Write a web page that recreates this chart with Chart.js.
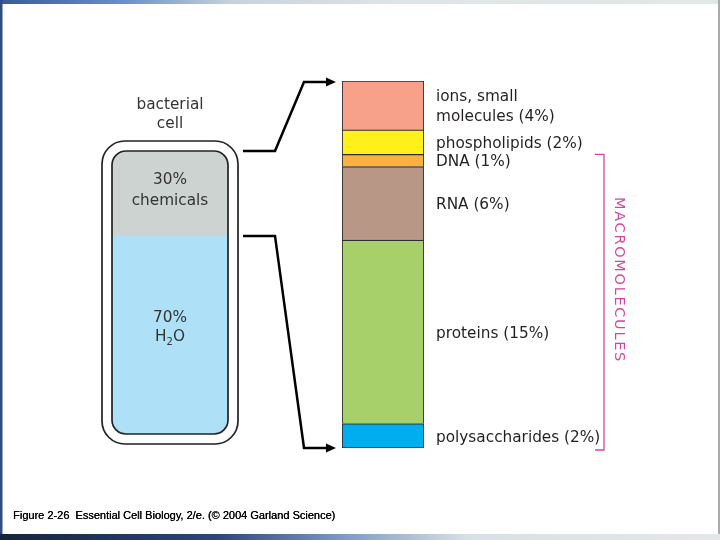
<!DOCTYPE html>
<html>
<head>
<meta charset="utf-8">
<script src="https://cdn.jsdelivr.net/npm/chart.js@4.4.1/dist/chart.umd.min.js"></script>
<style>
  html, body { margin: 0; padding: 0; background: #fff; }
  #wrap { position: relative; width: 720px; height: 540px; }
  #wrap canvas { position: absolute; left: 0; top: 0; }
</style>
</head>
<body>
<div id="wrap">
  <canvas id="cellChart" width="720" height="540"></canvas>
  <canvas id="moleculeChart" width="720" height="540"></canvas>
</div>
<script>
// Whole cell (percent)
const cellParts = ["H2O", "chemicals"];
const cellValues = [70, 30];
const cellColors = ["#aee0f8", "#cdd3d0"];

// Chemicals of the cell, bottom to top (percent of the cell)
const moleculeParts = ["polysaccharides", "proteins", "RNA", "DNA", "phospholipids", "ions, small molecules"];
const moleculeValues = [2, 15, 6, 1, 2, 4];
const moleculeColors = ["#00aeef", "#a8d06a", "#b89787", "#fbb040", "#fff01c", "#f7a08a"];
const moleculeLabels = [
    ["polysaccharides (2%)"],
    ["proteins (15%)"],
    ["RNA (6%)"],
    ["DNA (1%)"],
    ["phospholipids (2%)"],
    ["ions, small", "molecules (4%)"]
];
const macromolecules = ["polysaccharides", "proteins", "RNA", "DNA"];

const FONT = "DejaVu Sans";
const INK = "#231f20";
const PINK = "#d4449c";

function roundRect(ctx, x, y, w, h, r) {
    ctx.beginPath();
    ctx.moveTo(x + r, y);
    ctx.arcTo(x + w, y, x + w, y + h, r);
    ctx.arcTo(x + w, y + h, x, y + h, r);
    ctx.arcTo(x, y + h, x, y, r);
    ctx.arcTo(x, y, x + w, y, r);
    ctx.closePath();
}

// Slide frame, cell outline and cell texts
const cellDecor = {
    id: "cellDecor",
    beforeDraw(chart) {
        const ctx = chart.ctx;
        ctx.save();
        ctx.fillStyle = "#ffffff";
        ctx.fillRect(0, 0, 720, 540);

        let g = ctx.createLinearGradient(0, 0, 720, 0);
        g.addColorStop(0, "#3a5a92");
        g.addColorStop(0.17, "#6a8fc6");
        g.addColorStop(0.32, "#c6d2dc");
        g.addColorStop(0.55, "#dfe4e6");
        g.addColorStop(1, "#e3e7e8");
        ctx.fillStyle = g;
        ctx.fillRect(0, 0, 720, 4);

        ctx.fillStyle = "#2f4d82";
        ctx.fillRect(0, 0, 2.5, 540);
        ctx.fillStyle = "#a9acad";
        ctx.fillRect(718, 0, 2, 540);

        g = ctx.createLinearGradient(0, 0, 720, 0);
        g.addColorStop(0, "#15243f");
        g.addColorStop(0.3, "#2c4777");
        g.addColorStop(0.48, "#7e9cc4");
        g.addColorStop(0.65, "#d9e0e5");
        g.addColorStop(1, "#e4e7e8");
        ctx.fillStyle = g;
        ctx.fillRect(0, 534, 720, 6);

        ctx.fillStyle = "#000";
        ctx.font = "11px 'Liberation Sans'";
        ctx.textBaseline = "alphabetic";
        ctx.textAlign = "left";
        ctx.fillText("Figure 2-26  Essential Cell Biology, 2/e. (\u00a9 2004 Garland Science)", 13, 519);
        ctx.fillText("Figure 2-26  Essential Cell Biology, 2/e. (\u00a9 2004 Garland Science)", 13.3, 519);
        ctx.restore();
    },
    afterDatasetsDraw(chart) {
        const ctx = chart.ctx;
        const a = chart.chartArea;
        ctx.save();
        ctx.strokeStyle = "#222";
        ctx.lineWidth = 1.7;
        roundRect(ctx, a.left, a.top, a.right - a.left, a.bottom - a.top, 14);
        ctx.stroke();
        roundRect(ctx, a.left - 10, a.top - 10, a.right - a.left + 20, a.bottom - a.top + 20, 23);
        ctx.stroke();

        const cx = (a.left + a.right) / 2;
        ctx.fillStyle = "#333";
        ctx.font = "15.3px '" + FONT + "'";
        ctx.textAlign = "center";
        ctx.textBaseline = "middle";
        ctx.fillText("bacterial", cx, a.top - 46);
        ctx.fillText("cell", cx, a.top - 27);

        const water = chart.getDatasetMeta(0).data[0];
        const chem = chart.getDatasetMeta(1).data[0];
        const chemMid = (chem.y + chem.base) / 2;
        ctx.fillText(cellValues[1] + "%", cx, chemMid - 13);
        ctx.fillText(cellParts[1], cx, chemMid + 8);

        const waterMid = (water.y + water.base) / 2 - 8;
        ctx.fillText(cellValues[0] + "%", cx, waterMid - 9);
        // H2O with subscript
        const wH = ctx.measureText("H").width;
        const wO = ctx.measureText("O").width;
        ctx.font = "10px '" + FONT + "'";
        const w2 = ctx.measureText("2").width;
        const start = cx - (wH + w2 + wO) / 2;
        ctx.textAlign = "left";
        ctx.fillText("2", start + wH, waterMid + 15);
        ctx.font = "15.3px '" + FONT + "'";
        ctx.fillText("H", start, waterMid + 10);
        ctx.fillText("O", start + wH + w2, waterMid + 10);
        ctx.restore();
    }
};

// Molecule labels, bracket and connector arrows
const moleculeDecor = {
    id: "moleculeDecor",
    afterDatasetsDraw(chart) {
        const ctx = chart.ctx;
        const a = chart.chartArea;
        ctx.save();

        ctx.fillStyle = INK;
        ctx.font = "15.3px '" + FONT + "'";
        ctx.textAlign = "left";
        ctx.textBaseline = "middle";
        moleculeParts.forEach((part, i) => {
            const el = chart.getDatasetMeta(i).data[0];
            const mid = (el.y + el.base) / 2 + 2;
            const lines = moleculeLabels[i];
            lines.forEach((line, k) => {
                ctx.fillText(line, a.right + 12, mid + (k - (lines.length - 1) / 2) * 20);
            });
        });

        // bracket over the macromolecules
        const idx = macromolecules.map(m => moleculeParts.indexOf(m));
        const topEl = chart.getDatasetMeta(Math.max(...idx)).data[0];
        const botEl = chart.getDatasetMeta(Math.min(...idx)).data[0];
        const bx = a.right + 180;
        const bTop = topEl.y;
        const bBot = botEl.base + 2;
        ctx.strokeStyle = PINK;
        ctx.lineWidth = 1.3;
        ctx.beginPath();
        ctx.moveTo(bx - 9, bTop);
        ctx.lineTo(bx, bTop);
        ctx.lineTo(bx, bBot);
        ctx.lineTo(bx - 9, bBot);
        ctx.stroke();

        ctx.save();
        ctx.translate(bx + 15, 280);
        ctx.rotate(Math.PI / 2);
        ctx.fillStyle = PINK;
        ctx.font = "14.5px '" + FONT + "'";
        ctx.letterSpacing = "1.7px";
        ctx.textAlign = "center";
        ctx.fillText("MACROMOLECULES", 0, 0);
        ctx.restore();

        // connectors from the cell to the bar
        const cellArea = cellChart.chartArea;
        const chem = cellChart.getDatasetMeta(1).data[0];
        const x0 = cellArea.right + 15;
        const x1 = cellArea.right + 47;
        const x2 = a.left - 38;
        const tip = a.left - 6;
        const pairs = [[chem.y, a.top + 1], [chem.base, a.bottom]];
        ctx.strokeStyle = "#000";
        ctx.fillStyle = "#000";
        ctx.lineWidth = 2.5;
        ctx.lineJoin = "miter";
        pairs.forEach(([ys, ye]) => {
            ctx.beginPath();
            ctx.moveTo(x0, ys);
            ctx.lineTo(x1, ys);
            ctx.lineTo(x2, ye);
            ctx.lineTo(tip - 8, ye);
            ctx.stroke();
            ctx.beginPath();
            ctx.moveTo(tip, ye);
            ctx.lineTo(tip - 10, ye - 4.5);
            ctx.lineTo(tip - 10, ye + 4.5);
            ctx.closePath();
            ctx.fill();
        });
        ctx.restore();
    }
};

const cellChart = new Chart(document.getElementById("cellChart"), {
    type: "bar",
    data: {
        labels: ["cell"],
        datasets: cellParts.map((part, i) => ({
            label: part,
            data: [cellValues[i]],
            backgroundColor: cellColors[i],
            borderWidth: 0,
            borderSkipped: false,
            borderRadius: i === 0
                ? { bottomLeft: 14, bottomRight: 14, topLeft: 0, topRight: 0 }
                : { topLeft: 14, topRight: 14, bottomLeft: 0, bottomRight: 0 },
            categoryPercentage: 1,
            barPercentage: 1
        }))
    },
    options: {
        responsive: false,
        animation: false,
        layout: { padding: { left: 112, right: 492, top: 151, bottom: 106 } },
        scales: {
            x: { display: false, stacked: true },
            y: { display: false, stacked: true, min: 0, max: 100 }
        },
        plugins: { legend: { display: false }, tooltip: { enabled: false } }
    },
    plugins: [cellDecor]
});

const moleculeTotal = moleculeValues.reduce((s, v) => s + v, 0);

const moleculeChart = new Chart(document.getElementById("moleculeChart"), {
    type: "bar",
    data: {
        labels: ["chemicals"],
        datasets: moleculeParts.map((part, i) => ({
            label: part,
            data: [moleculeValues[i]],
            backgroundColor: moleculeColors[i],
            borderColor: "#2e2e2e",
            borderWidth: { top: 1.2, left: 1.2, right: 1.2, bottom: i === 0 ? 1.2 : 0 },
            borderSkipped: false,
            categoryPercentage: 1,
            barPercentage: 1
        }))
    },
    options: {
        responsive: false,
        animation: false,
        layout: { padding: { left: 342, right: 296, top: 81, bottom: 92 } },
        scales: {
            x: { display: false, stacked: true },
            y: { display: false, stacked: true, min: 0, max: moleculeTotal }
        },
        plugins: { legend: { display: false }, tooltip: { enabled: false } }
    },
    plugins: [moleculeDecor]
});
</script>
</body>
</html>
